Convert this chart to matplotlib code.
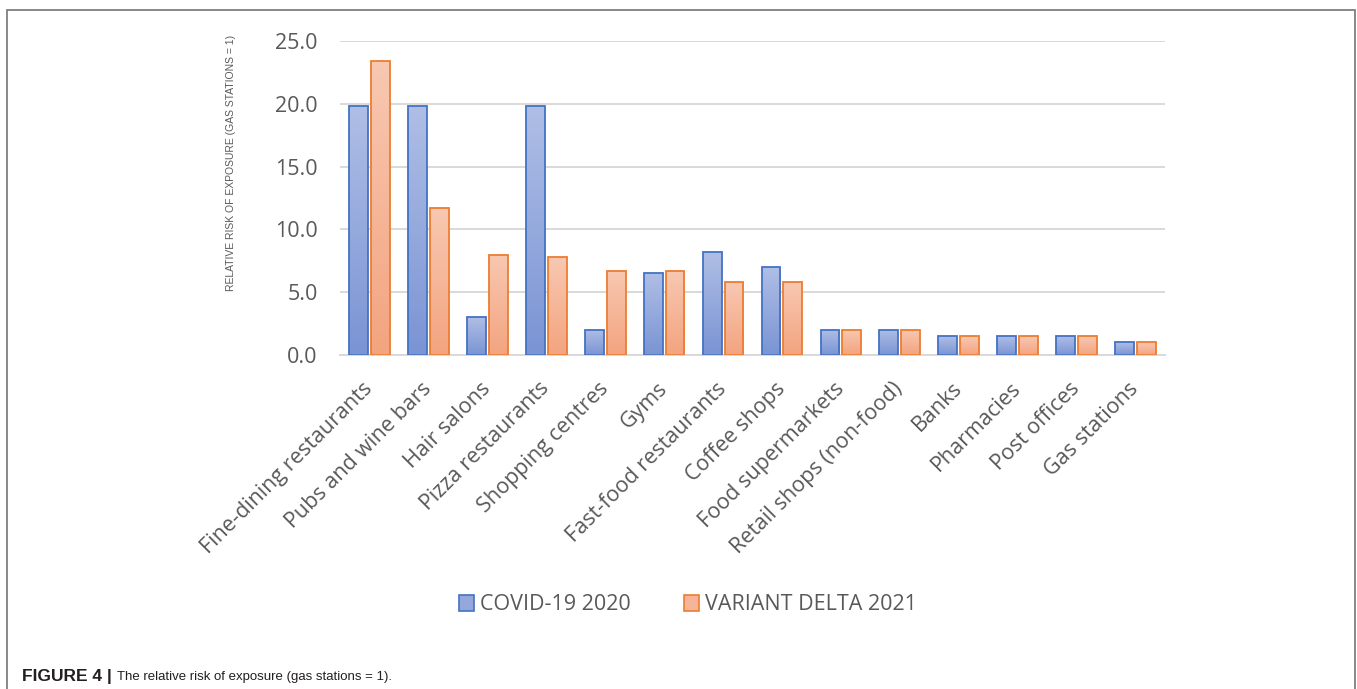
import numpy as np
import matplotlib
matplotlib.use("Agg")
import matplotlib.pyplot as plt
from matplotlib.patches import Patch, Rectangle
from matplotlib.colors import to_rgb
from matplotlib import font_manager

# ---- data ----
categories = [
    "Fine-dining restaurants", "Pubs and wine bars", "Hair salons",
    "Pizza restaurants", "Shopping centres", "Gyms", "Fast-food restaurants",
    "Coffee shops", "Food supermarkets", "Retail shops (non-food)", "Banks",
    "Pharmacies", "Post offices", "Gas stations",
]
covid_2020 = [19.8, 19.8, 3.0, 19.8, 2.0, 6.5, 8.2, 7.0, 2.0, 2.0, 1.5, 1.5, 1.5, 1.0]
delta_2021 = [23.4, 11.7, 8.0, 7.8, 6.7, 6.7, 5.8, 5.8, 2.0, 2.0, 1.5, 1.5, 1.5, 1.0]
series_names = ["COVID-19 2020", "VARIANT DELTA 2021"]
yticks = [0, 5, 10, 15, 20, 25]
ylabel = "RELATIVE RISK OF EXPOSURE (GAS STATIONS = 1)"

W, H = 1357, 689
fig = plt.figure(figsize=(W / 100, H / 100), dpi=100)
fig.patch.set_facecolor("white")

installed = {f.name for f in font_manager.fontManager.ttflist}
def pick(*names):
    for n in names:
        if n in installed:
            return n
    return "DejaVu Sans"

main_font = pick("Open Sans", "Lato", "DejaVu Sans")
narrow_font = pick("Liberation Sans Narrow", "Liberation Sans", "DejaVu Sans")
cap_font = pick("Liberation Sans", "DejaVu Sans")

text_grey = "#595959"
grid_grey = "#D9D9D9"

ax = fig.add_axes([340 / W, 1 - 355 / H, (1165 - 340) / W, (355 - 41) / H])

x = np.arange(len(categories))
bw = 0.32
gap = 0.05
off = (bw + gap) / 2

blue_edge, orange_edge = "#4472C4", "#ED7D31"
blue_top, blue_bot = "#AFBEE5", "#7A94D4"
orange_top, orange_bot = "#F8C8B2", "#F3A47F"

bars_b = ax.bar(x - off, covid_2020, bw, facecolor="none", edgecolor=blue_edge,
                linewidth=1.3, zorder=3)
bars_o = ax.bar(x + off, delta_2021, bw, facecolor="none", edgecolor=orange_edge,
                linewidth=1.3, zorder=3)

def fill_gradient(bars, top, bottom):
    t = np.linspace(0, 1, 128).reshape(-1, 1, 1)
    c_top = np.array(to_rgb(top)).reshape(1, 1, 3)
    c_bot = np.array(to_rgb(bottom)).reshape(1, 1, 3)
    img = c_bot * (1 - t) + c_top * t
    for b in bars:
        x0, y0 = b.get_x(), b.get_y()
        im = ax.imshow(img, extent=[x0, x0 + b.get_width(), y0, y0 + b.get_height()],
                       origin="lower", aspect="auto", zorder=2, interpolation="bilinear")
        im.set_clip_path(b)

fill_gradient(bars_b, blue_top, blue_bot)
fill_gradient(bars_o, orange_top, orange_bot)

ax.set_xlim(-0.5, len(categories) - 0.5)
ax.set_ylim(0, 25)
ax.set_yticks(yticks)
ax.set_yticklabels([f"{v:.1f}" for v in yticks], fontsize=15.5, color=text_grey,
                   family=main_font)
ax.yaxis.grid(True, color=grid_grey, linewidth=1.4, zorder=0)
ax.set_axisbelow(True)
for s in ["top", "right", "left"]:
    ax.spines[s].set_visible(False)
ax.spines["bottom"].set_color(grid_grey)
ax.spines["bottom"].set_linewidth(1.4)
ax.tick_params(axis="y", length=0, pad=16)
ax.tick_params(axis="x", length=0, pad=22)

ax.set_xticks(x)
ax.set_xticklabels(categories, rotation=45, ha="right", va="center",
                   rotation_mode="anchor", fontsize=15.5, color=text_grey,
                   family=main_font)

fig.text(231 / W, 1 - 163 / H, ylabel, rotation=90, ha="center", va="center",
         fontsize=7.5, color=text_grey, family=narrow_font)

handles = [
    Patch(facecolor="#94A8DC", edgecolor=blue_edge, linewidth=1.2),
    Patch(facecolor="#F6B599", edgecolor=orange_edge, linewidth=1.2),
]
leg = fig.legend(handles, series_names, loc="center", bbox_to_anchor=(688 / W, 1 - 605 / H),
                 ncol=2, frameon=False, handlelength=0.7, handleheight=0.7,
                 handletextpad=0.25, columnspacing=2.5,
                 prop={"family": main_font, "size": 15.5})
for t in leg.get_texts():
    t.set_color(text_grey)

# outer frame of the figure panel
fig.add_artist(Rectangle((7 / W, -0.05), (1355 - 7) / W, (H - 10) / H + 0.05,
                         transform=fig.transFigure, fill=False,
                         edgecolor="#7F7F7F", linewidth=1.3))

# caption
cap_y = 1 - 677 / H
t1 = fig.text(22 / W, cap_y, "FIGURE 4 |", fontsize=12.5, fontweight="bold",
              family=cap_font, color="#231F20", va="center", ha="left")
fig.canvas.draw()
bb = t1.get_window_extent(fig.canvas.get_renderer())
fig.text((bb.x1 + 5) / W, cap_y, "The relative risk of exposure (gas stations = 1).",
         fontsize=9.5, family=narrow_font, color="#231F20", va="center", ha="left")

fig.savefig("out.png", dpi=100)
